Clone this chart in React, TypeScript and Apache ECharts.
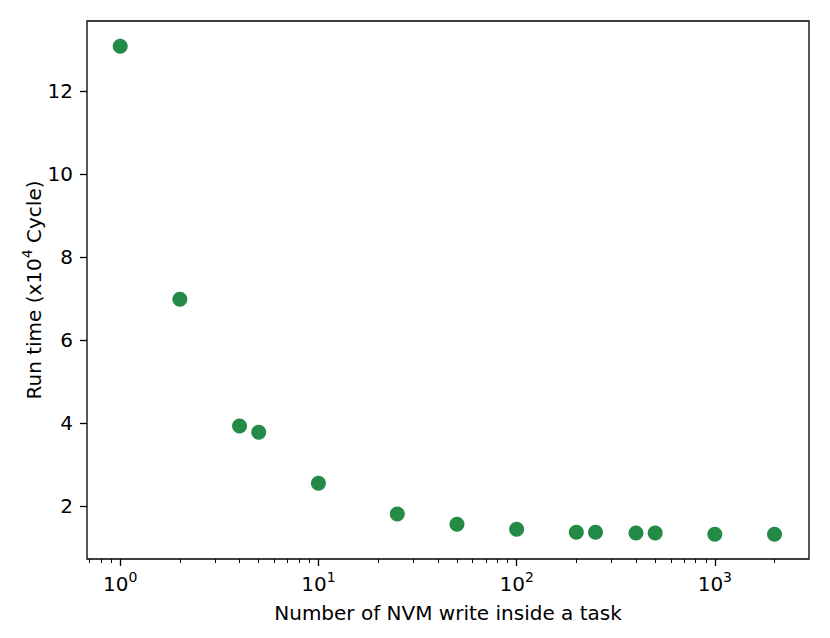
import React, { useEffect, useRef } from "react";
import * as echarts from "echarts";

const writesPerTask = [1, 2, 4, 5, 10, 25, 50, 100, 200, 250, 400, 500, 1000, 2000];
const runTime = [13.08, 6.98, 3.93, 3.78, 2.55, 1.81, 1.56, 1.44, 1.37, 1.37, 1.35, 1.35, 1.32, 1.32];
const xMajorTicks = [1, 10, 100, 1000];
const xMinorTicks = [
  0.7, 0.8, 0.9,
  2, 3, 4, 5, 6, 7, 8, 9,
  20, 30, 40, 50, 60, 70, 80, 90,
  200, 300, 400, 500, 600, 700, 800, 900,
  2000,
];
const yTicks = [2, 4, 6, 8, 10, 12];

const FONT = "DejaVu Sans";
const FS = 20;
const SFS = 14;

export default function App() {
  const ref = useRef<HTMLDivElement>(null);
  useEffect(() => {
    if (!ref.current) return;
    const chart = echarts.init(ref.current, null, { renderer: "svg" });
    const xMin = 0.68;
    const xMax = 2985;
    const axisCommon = {
      type: "log" as const,
      logBase: 10,
      min: xMin,
      max: xMax,
      gridIndex: 0,
      position: "bottom" as const,
      splitLine: { show: false },
      minorTick: { show: false },
      minorSplitLine: { show: false },
    };
    chart.setOption({
      animation: false,
      textStyle: { fontFamily: FONT },
      grid: {
        left: 87,
        top: 21,
        right: 21,
        bottom: 79,
        show: true,
        borderColor: "#000",
        borderWidth: 1.3,
        backgroundColor: "transparent",
        containLabel: false,
      },
      xAxis: [
        {
          ...axisCommon,
          name: "Number of NVM write inside a task",
          nameLocation: "middle",
          nameGap: 44,
          nameMoveOverlap: false,
          nameTextStyle: { fontSize: FS, color: "#000", fontFamily: FONT },
          axisLine: { show: false },
          axisTick: {
            show: true,
            length: 7,
            lineStyle: { color: "#000", width: 1.3 },
            customValues: xMajorTicks,
          },
          axisLabel: {
            show: true,
            margin: 11,
            customValues: xMajorTicks,
            formatter: (v: number) => `{b|10}{s|${Math.round(Math.log10(v))}}`,
            rich: {
              b: { fontSize: FS, color: "#000", fontFamily: FONT, lineHeight: 24, verticalAlign: "bottom" },
              s: { fontSize: SFS, color: "#000", fontFamily: FONT, lineHeight: 14, verticalAlign: "top" },
            },
          },
        },
        {
          ...axisCommon,
          axisLine: { show: false },
          axisLabel: { show: false },
          axisTick: {
            show: true,
            length: 4,
            lineStyle: { color: "#000", width: 1 },
            customValues: xMinorTicks,
          },
        },
      ],
      yAxis: {
        type: "value",
        min: 0.723,
        max: 13.687,
        splitLine: { show: false },
        axisLine: { show: false },
        axisTick: {
          show: true,
          length: 7,
          lineStyle: { color: "#000", width: 1.3 },
          customValues: yTicks,
        },
        axisLabel: {
          show: true,
          margin: 14,
          fontSize: FS,
          color: "#000",
          fontFamily: FONT,
          customValues: yTicks,
        },
        name: "{a|Run time (x10}{s|4}{a| Cycle)}",
        nameLocation: "middle",
        nameGap: 43,
        nameMoveOverlap: false,
        nameRotate: 90,
        nameTextStyle: {
          rich: {
            a: { fontSize: FS, color: "#000", fontFamily: FONT, lineHeight: 24, verticalAlign: "bottom" },
            s: { fontSize: SFS, color: "#000", fontFamily: FONT, lineHeight: 14, verticalAlign: "top" },
          },
        },
      },
      series: [
        {
          type: "scatter",
          xAxisIndex: 0,
          yAxisIndex: 0,
          symbol: "circle",
          symbolSize: 15,
          itemStyle: { color: "#238b45", opacity: 1 },
          data: writesPerTask.map((x, i) => [x, runTime[i]]),
          emphasis: { disabled: true },
        },
      ],
    });
    return () => chart.dispose();
  }, []);
  return (
    <div
      ref={ref}
      style={{ position: "absolute", left: 0, top: 0, width: 830, height: 638, background: "#fff" }}
    />
  );
}
